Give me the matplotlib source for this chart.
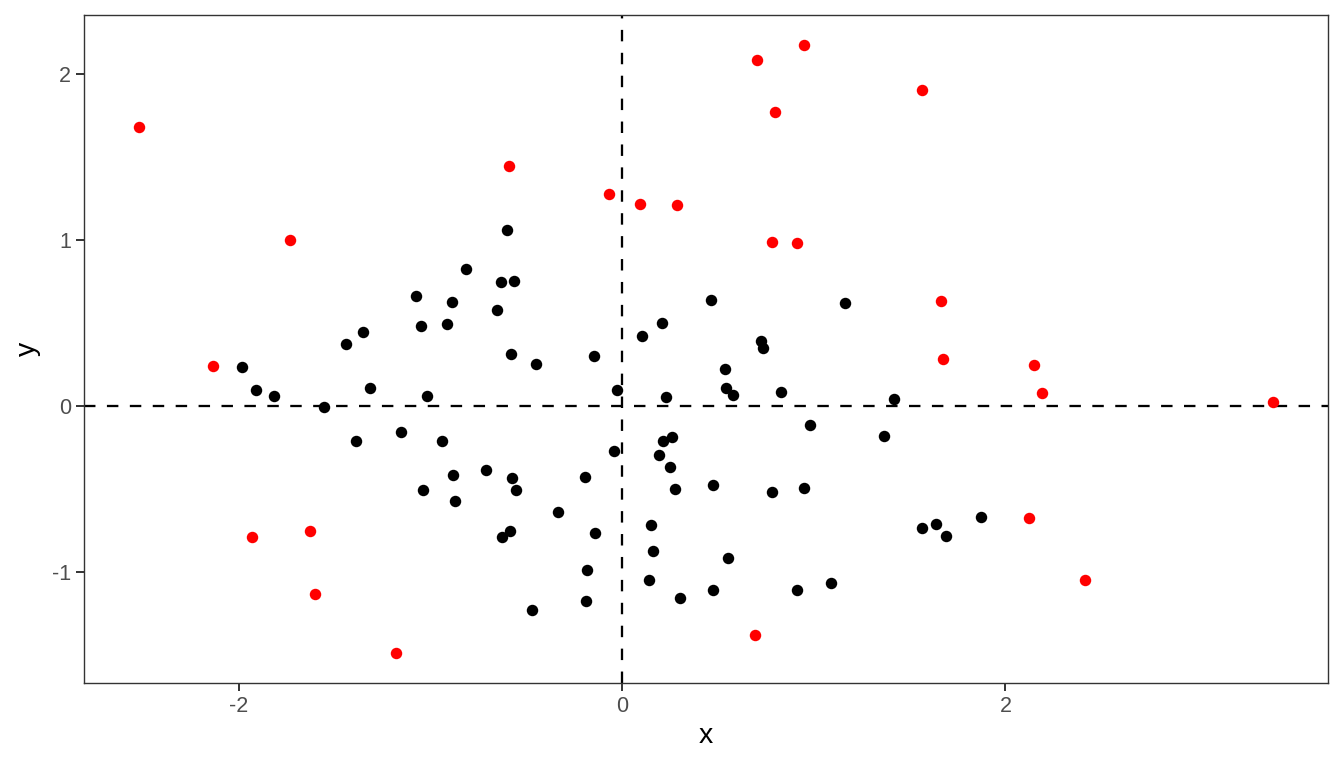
import matplotlib
matplotlib.use("Agg")
import matplotlib.pyplot as plt

plt.rcParams["font.family"] = ["Liberation Sans", "DejaVu Sans"]
plt.rcParams["axes.unicode_minus"] = False

# points far from the origin (red)
red_x = [-2.519, -2.133, -1.731, -1.930, -1.627, -1.601, -1.179, -0.589, -0.068,
         0.094, 0.287, 0.704, 0.949, 0.798, 0.782, 0.913, 1.565, 1.664, 1.674,
         2.149, 2.190, 3.395, 2.123, 2.415, 0.694]
red_y = [1.681, 0.241, 1.000, -0.789, -0.753, -1.133, -1.488, 1.446, 1.277,
         1.217, 1.211, 2.084, 2.175, 1.771, 0.988, 0.982, 1.904, 0.633, 0.283,
         0.247, 0.078, 0.024, -0.675, -1.048, -1.380]

# remaining points (black)
black_x = [-1.982, -1.909, -1.815, -1.554, -1.439, -1.351, -1.314, -1.387, -1.153,
           -1.074, -1.048, -1.017, -0.939, -0.913, -0.887, -0.814, -0.881, -0.871,
           -1.038, -0.709, -0.652, -0.631, -0.563, -0.600, -0.579, -0.449, -0.574,
           -0.553, -0.584, -0.626, -0.469, -0.334, -0.193, -0.183, -0.188, -0.141,
           -0.146, -0.042, -0.026,
           0.104, 0.209, 0.464, 1.163, 0.725, 0.735, 0.537, 0.542, 0.579, 0.829,
           0.229, 1.419, 0.980, 1.366, 0.261, 0.214, 0.193, 0.250, 0.276, 0.475,
           0.782, 0.949, 0.151, 0.162, 0.553, 0.141, 0.475, 0.302, 0.913, 1.090,
           1.565, 1.638, 1.690, 1.872]
black_y = [0.235, 0.096, 0.060, -0.006, 0.373, 0.446, 0.108, -0.211, -0.157,
           0.663, 0.482, 0.060, -0.211, 0.494, 0.627, 0.825, -0.416, -0.572,
           -0.506, -0.386, 0.578, 0.747, 0.753, 1.060, 0.313, 0.253, -0.434,
           -0.506, -0.753, -0.789, -1.229, -0.639, -0.428, -0.988, -1.175, -0.765,
           0.301, -0.271, 0.096,
           0.422, 0.500, 0.639, 0.620, 0.392, 0.349, 0.223, 0.108, 0.066, 0.084,
           0.054, 0.042, -0.114, -0.181, -0.187, -0.211, -0.295, -0.367, -0.500,
           -0.476, -0.518, -0.494, -0.717, -0.873, -0.916, -1.048, -1.108, -1.157,
           -1.108, -1.066, -0.735, -0.711, -0.783, -0.669]

fig = plt.figure(figsize=(13.44, 7.68), dpi=100)
ax = fig.add_axes([84 / 1344, 1 - 683 / 768, 1244 / 1344, 668 / 768])

dash = (0, (5, 5))
ax.axhline(0, color="black", lw=1.65, linestyle=dash, zorder=1)
ax.axvline(0, color="black", lw=1.65, linestyle=dash, zorder=1)

ax.scatter(black_x, black_y, s=68, color="black", linewidths=0, zorder=2)
ax.scatter(red_x, red_y, s=68, color="#FF0000", linewidths=0, zorder=3)

ax.set_xlim(-2.806, 3.682)
ax.set_ylim(-1.669, 2.355)
ax.set_xticks([-2, 0, 2])
ax.set_yticks([-1, 0, 1, 2])

for sp in ax.spines.values():
    sp.set_color("#333333")
    sp.set_linewidth(1.0)
ax.tick_params(length=5.5, width=1.4, color="#333333", labelcolor="#4D4D4D",
               labelsize=15.5, pad=4)
ax.set_xlabel("x", fontsize=20.5, labelpad=4)
ax.set_ylabel("y", fontsize=20.5, labelpad=8)

fig.savefig("out.png", dpi=100, facecolor="white")
